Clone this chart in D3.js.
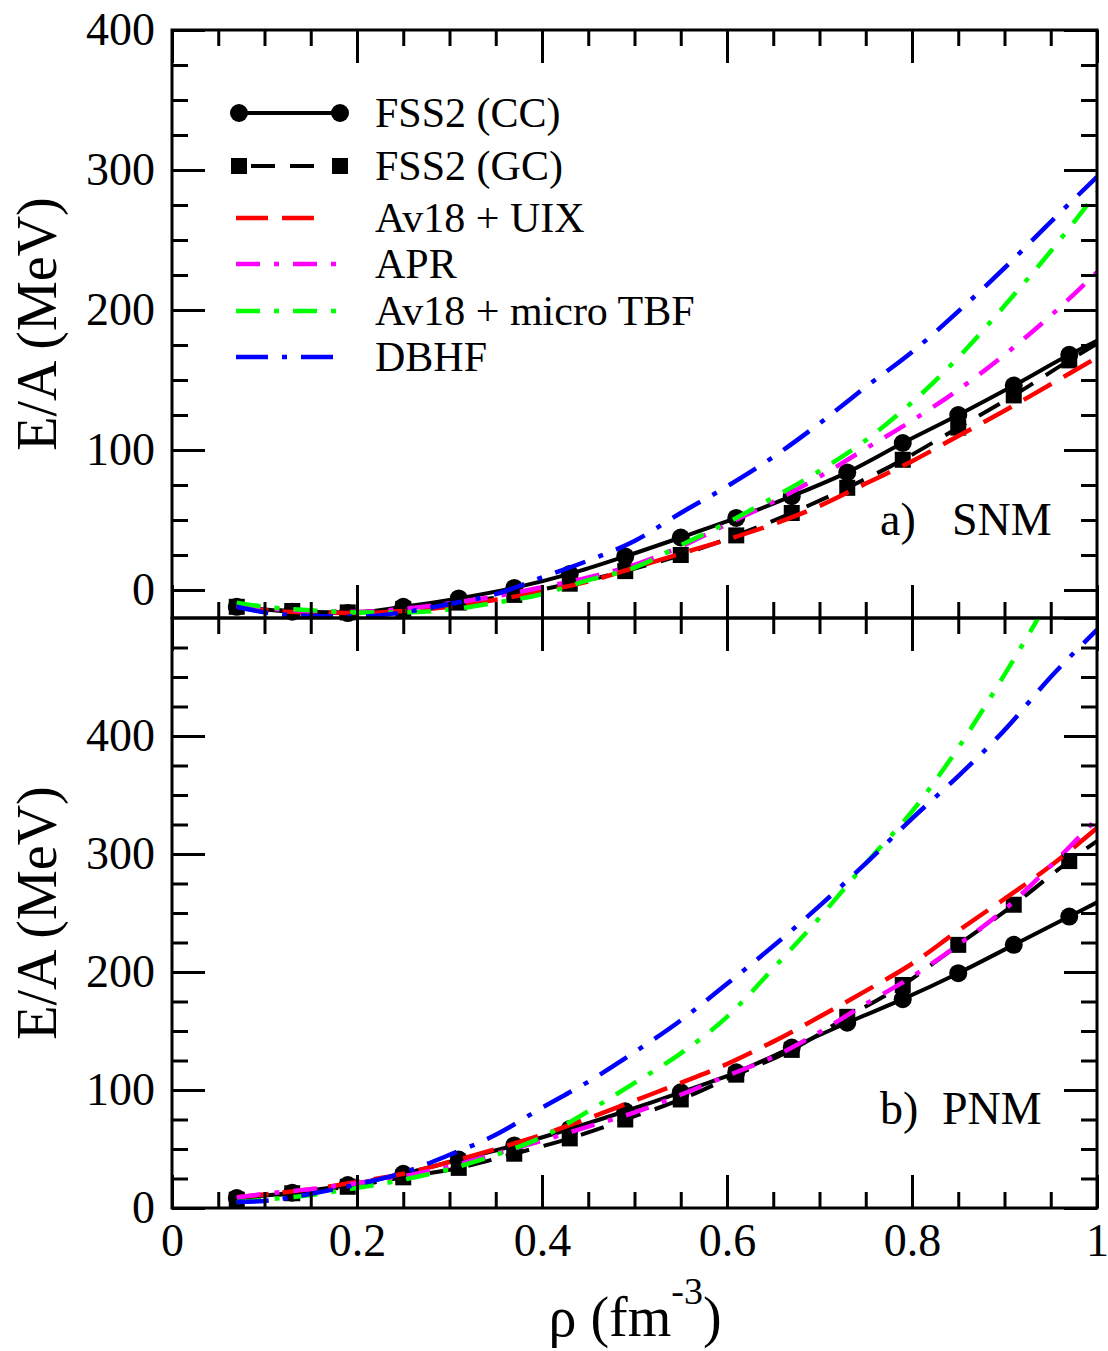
<!DOCTYPE html>
<html>
<head>
<meta charset="utf-8">
<script src="https://cdn.jsdelivr.net/npm/d3@7"></script>
<style>
  body { margin: 0; background: #fff; }
  svg { display: block; }
  text { font-family: "Liberation Serif", "Times New Roman", serif; fill: #000; }
</style>
</head>
<body>
<svg id="chart" width="1108" height="1351"></svg>
<script>

// density grids (fm^-3)
const rhoModel = [0.07, 0.1, 0.15, 0.2, 0.25, 0.3, 0.35, 0.4, 0.45, 0.5, 0.55, 0.6, 0.65, 0.7, 0.75, 0.8, 0.85, 0.9, 0.95, 1.0]
const rhoFss2 = [0.07, 0.13, 0.19, 0.25, 0.31, 0.37, 0.43, 0.49, 0.55, 0.61, 0.67, 0.73, 0.79, 0.85, 0.91, 0.97, 1.0]

// a) symmetric nuclear matter, E/A in MeV
const snmCC = [-12, -15.5, -16.5, -12, -6, 1.5, 11.5, 24, 37.5, 51.5, 67, 84, 105, 125, 146, 168, 178]
const snmGC = [-12, -15, -16, -13.5, -9, -3.5, 4.5, 13.5, 25, 39, 55, 73, 93, 116, 139, 164, 176]
const snmUIX = [-12, -14.5, -16, -16.5, -15, -12, -7, -1, 6, 16, 26, 36, 47, 60, 76, 92, 110, 128, 147, 166]
const snmAPR = [-11, -13, -15, -15.5, -13.5, -9.5, -4.5, 2, 9, 18, 31, 47, 63, 81, 101, 121, 143, 168, 196, 227]
const snmTBF = [-9, -12, -14.5, -16, -16, -14, -9, -3, 7, 16, 32, 48, 66, 85, 107, 134, 166, 203, 242, 284]
const snmDBHF = [-12, -16, -18.5, -19, -16, -10, -3, 9, 21, 35, 55, 74, 95, 119, 145, 170, 199, 230, 263, 295]

// b) pure neutron matter
const pnmCC = [8.5, 13, 19.5, 29, 41, 53, 67, 82, 98, 115, 136, 157, 177, 199, 223, 247, 259]
const pnmGC = [7, 12.5, 18, 26, 34, 46, 59, 75, 92, 113, 134, 162, 189, 223, 257, 294, 311]
const pnmUIX = [9, 11.5, 16, 22, 29, 39, 50, 62, 76, 91, 106, 122, 141, 162, 184, 207, 235, 262, 290, 322]
const pnmAPR = [9, 12, 16, 21, 27, 35, 46, 57, 69, 81, 96, 112, 128, 149, 173, 196, 223, 253, 290, 330]
const pnmTBF = [5, 7, 11, 17, 24, 33, 45, 60, 82, 106, 131, 162, 203, 246, 292, 336, 390, 452, 518, null]
const pnmDBHF = [5, 6, 12, 20, 30, 45, 62, 85, 107, 132, 159, 190, 222, 256, 292, 330, 366, 405, 450, 490]

const seriesNames = ["FSS2 (CC)", "FSS2 (GC)", "Av18 + UIX", "APR", "Av18 + micro TBF", "DBHF"]

// tick values / labels
const xMajor = [0, 0.2, 0.4, 0.6, 0.8, 1]
const xLabels = ["0", "0.2", "0.4", "0.6", "0.8", "1"]
const xMinor = [0.05, 0.1, 0.15, 0.25, 0.3, 0.35, 0.45, 0.5, 0.55, 0.65, 0.7, 0.75, 0.85, 0.9, 0.95]
const snmMajor = [0, 100, 200, 300, 400]
const snmMinor = [25, 50, 75, 125, 150, 175, 225, 250, 275, 325, 350, 375]
const pnmMajor = [0, 100, 200, 300, 400, 500]
const pnmMinor = [25, 50, 75, 125, 150, 175, 225, 250, 275, 325, 350, 375, 425, 450, 475]

const svg = d3.select("#chart")

const left = 172, right = 1097
const x = d3.scaleLinear().domain([0, 1]).range([left, right])
const ySnm = d3.scaleLinear().domain([-20, 400]).range([618, 30])
const yPnm = d3.scaleLinear().domain([0, 500]).range([1208, 618])

const styles = [
  { color: "#000", dash: null, width: 4, marker: "circle" },
  { color: "#000", dash: "24,15", width: 4, marker: "square" },
  { color: "#ff0000", dash: "32,14", width: 4.5 },
  { color: "#ff00ff", dash: "24,14,5,14", width: 4.5 },
  { color: "#00ff00", dash: "24,14,5,14", width: 4.5 },
  { color: "#0000ff", dash: "32,14,5,14", width: 4.5 }
]

function zip(xs, ys) {
  return xs.map((r, i) => ({ rho: r, e: ys[i] }))
}

function drawMarker(g, kind, cx, cy) {
  if (kind === "circle") {
    g.append("circle").attr("cx", cx).attr("cy", cy).attr("r", 9).attr("fill", "#000")
  } else if (kind === "square") {
    g.append("rect").attr("x", cx - 8).attr("y", cy - 8).attr("width", 16).attr("height", 16).attr("fill", "#000")
  }
}

function drawPanel(y, yMajor, yMinor, sets, clipId, showXLabels) {
  const [y0, y1] = y.range()
  const g = svg.append("g")

  g.append("clipPath").attr("id", clipId)
    .append("rect").attr("x", left).attr("y", y1).attr("width", right - left).attr("height", y0 - y1)

  // black sets first, colored ones drawn over them
  sets.forEach((data, i) => {
    const st = styles[i]
    const line = d3.line()
      .defined(d => d.e != null)
      .x(d => x(d.rho))
      .y(d => y(d.e))
      .curve(d3.curveMonotoneX)
    g.append("path")
      .attr("clip-path", "url(#" + clipId + ")")
      .attr("d", line(data))
      .attr("fill", "none")
      .attr("stroke", st.color)
      .attr("stroke-width", st.width)
      .attr("stroke-dasharray", st.dash)
    if (st.marker) {
      data.filter(d => d.rho < 0.99).forEach(d => drawMarker(g, st.marker, x(d.rho), y(d.e)))
    }
  })

  // ticks on all four sides, pointing inward
  const axes = g.append("g")
  const add = (axis, tr) => {
    axes.append("g").attr("transform", tr).call(axis).call(s => s.select(".domain").remove())
  }
  add(d3.axisLeft(y).tickValues(yMajor.filter(v => v < 450)).tickSize(-33).tickPadding(17), "translate(" + left + ",0)")
  add(d3.axisLeft(y).tickValues(yMinor).tickSize(-16).tickFormat(""), "translate(" + left + ",0)")
  add(d3.axisRight(y).tickValues(yMajor).tickSize(-33).tickFormat(""), "translate(" + right + ",0)")
  add(d3.axisRight(y).tickValues(yMinor).tickSize(-16).tickFormat(""), "translate(" + right + ",0)")
  add(d3.axisTop(x).tickValues(xMajor).tickSize(-33).tickFormat(""), "translate(0," + y1 + ")")
  add(d3.axisTop(x).tickValues(xMinor).tickSize(-16).tickFormat(""), "translate(0," + y1 + ")")
  add(d3.axisBottom(x).tickValues(xMajor).tickSize(-33).tickPadding(15)
      .tickFormat((d, i) => showXLabels ? xLabels[i] : ""), "translate(0," + y0 + ")")
  add(d3.axisBottom(x).tickValues(xMinor).tickSize(-16).tickFormat(""), "translate(0," + y0 + ")")

  axes.selectAll("line").attr("stroke", "#000").attr("stroke-width", 3)
  axes.selectAll("text")
    .attr("fill", "#000")
    .attr("font-size", 46)
    .attr("font-family", "Liberation Serif, Times New Roman, serif")

  g.append("rect")
    .attr("x", left).attr("y", y1).attr("width", right - left).attr("height", y0 - y1)
    .attr("fill", "none").attr("stroke", "#000").attr("stroke-width", 3)

  // y axis title
  g.append("text")
    .attr("transform", "translate(56," + (y0 + y1) / 2 + ") rotate(-90)")
    .attr("text-anchor", "middle")
    .attr("font-size", 56)
    .text("E/A (MeV)")
}

drawPanel(ySnm, snmMajor, snmMinor, [
  zip(rhoFss2, snmCC), zip(rhoFss2, snmGC), zip(rhoModel, snmUIX),
  zip(rhoModel, snmAPR), zip(rhoModel, snmTBF), zip(rhoModel, snmDBHF)
], "clipSnm", false)

drawPanel(yPnm, pnmMajor, pnmMinor, [
  zip(rhoFss2, pnmCC), zip(rhoFss2, pnmGC), zip(rhoModel, pnmUIX),
  zip(rhoModel, pnmAPR), zip(rhoModel, pnmTBF), zip(rhoModel, pnmDBHF)
], "clipPnm", true)

// panel labels
svg.append("text").attr("x", 880).attr("y", 535).attr("font-size", 46).text("a)")
svg.append("text").attr("x", 952).attr("y", 535).attr("font-size", 46).text("SNM")
svg.append("text").attr("x", 880).attr("y", 1124).attr("font-size", 46).text("b)")
svg.append("text").attr("x", 942).attr("y", 1124).attr("font-size", 46).text("PNM")

// x axis title
const xt = svg.append("text").attr("x", 635).attr("y", 1336).attr("text-anchor", "middle").attr("font-size", 56)
xt.append("tspan").text("\u03c1 (fm")
xt.append("tspan").attr("font-size", 38).attr("dy", -32).text("-3")
xt.append("tspan").attr("dy", 32).text(")")

// legend
const legendRows = [113, 166, 218, 264, 311, 357]
const legend = svg.append("g")
seriesNames.forEach((name, i) => {
  const st = styles[i]
  const ly = legendRows[i]
  const x0 = st.marker ? 239 : 236
  legend.append("line")
    .attr("x1", x0).attr("x2", st.marker ? 340 : 342)
    .attr("y1", ly).attr("y2", ly)
    .attr("stroke", st.color).attr("stroke-width", st.width)
    .attr("stroke-dasharray", st.marker ? (st.dash ? "0,12,24,15,24,100" : null) : (i === 2 ? "32,14,32,100" : st.dash))
  if (st.marker) {
    drawMarker(legend, st.marker, 239, ly)
    drawMarker(legend, st.marker, 340, ly)
  }
  legend.append("text").attr("x", 375).attr("y", ly + 14).attr("font-size", 42).text(name)
})
</script>
</body>
</html>
